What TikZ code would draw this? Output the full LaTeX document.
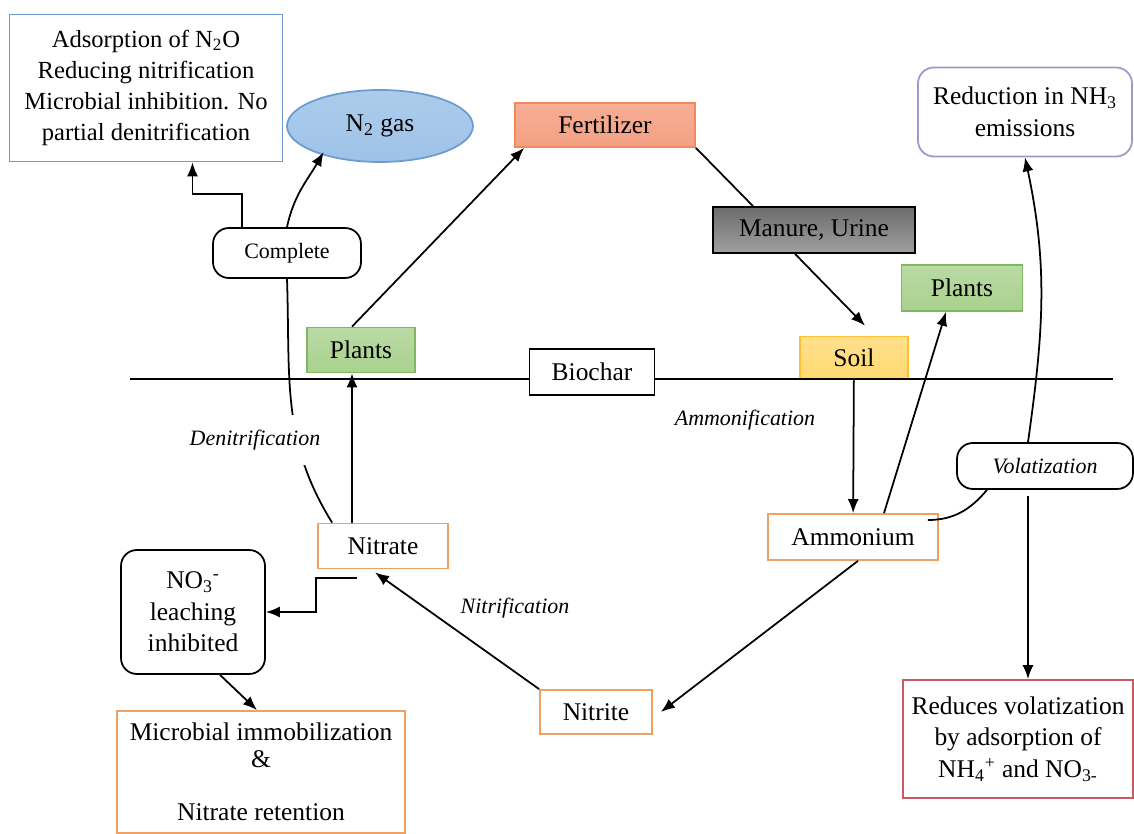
\documentclass[tikz,border=0pt]{standalone}
\usepackage{fontspec}
\setmainfont{Liberation Serif}
\usepackage{xcolor}
\usepackage{tikz}
\usetikzlibrary{arrows.meta, positioning, shapes.geometric, calc}

\definecolor{adsblue}{RGB}{112,155,210}
\definecolor{gasblue}{RGB}{158,195,232}
\definecolor{gasline}{RGB}{108,155,208}
\definecolor{fertred}{RGB}{244,160,131}
\definecolor{fertline}{RGB}{238,138,94}
\definecolor{plantgreen}{RGB}{169,209,142}
\definecolor{plantline}{RGB}{128,184,96}
\definecolor{soilyellow}{RGB}{255,216,112}
\definecolor{soilline}{RGB}{255,192,48}
\definecolor{orangeline}{RGB}{240,160,96}
\definecolor{lilacline}{RGB}{164,151,204}
\definecolor{redline}{RGB}{200,90,100}

\begin{document}
\begin{tikzpicture}[x=0.02cm, y=-0.02cm, line width=1pt,
                    >={Latex[length=2.8mm,width=2.2mm]},
                    font=\fontsize{14.5}{18}\selectfont,
                    box node/.style={draw, rectangle, align=center, inner sep=2pt},
                    round node/.style={box node, rounded corners=9pt},
                    label node/.style={font=\fontsize{12.5}{15}\selectfont\itshape}]

  \useasboundingbox (0,0) rectangle (1134,834);

  \node[box node, draw=adsblue, minimum width=5.46cm, minimum height=2.94cm,
        font=\fontsize{14}{17.8}\selectfont] (adsorp) at (146,88)
       {Adsorption of N\textsubscript{2}O\\
        Reducing nitrification\\
        Microbial inhibition. No\\
        partial denitrification};
  \node[ellipse, draw=gasline, top color=gasblue!85!white, bottom color=gasblue, minimum width=3.72cm, minimum height=1.44cm] (n2) at (380,126) {N\textsubscript{2} gas};
  \node[box node, draw=fertline, top color=fertred!85!white, bottom color=fertred, minimum width=3.6cm, minimum height=0.88cm] (fert) at (605,125) {Fertilizer};
  \node[box node, draw=black, top color=gray!85!black, bottom color=gray!75, minimum width=4.04cm, minimum height=0.92cm] (manure) at (814,230) {Manure, Urine};
  \node[round node, draw=lilacline, minimum width=4.28cm, minimum height=1.78cm] (reduc) at (1025,112) {Reduction in NH\textsubscript{3}\\emissions};
  \node[round node, minimum width=2.96cm, minimum height=1cm, font=\fontsize{12.5}{15}\selectfont] (complete) at (287,253) {Complete};

  \node[box node, draw=plantline, top color=plantgreen!80!white, bottom color=plantgreen, minimum width=2.16cm, minimum height=0.9cm] (plantsL) at (361,350) {Plants};
  \node[box node, draw=plantline, top color=plantgreen!80!white, bottom color=plantgreen, minimum width=2.42cm, minimum height=0.92cm] (plantsR) at (962,288) {Plants};
  \node[box node, draw=soilline, top color=soilyellow!80!white, bottom color=soilyellow, minimum width=2.16cm, minimum height=0.86cm] (soil) at (854,358) {Soil};

  \draw (130,379) -- (1113,379);
  \node[box node, fill=white, minimum width=2.5cm, minimum height=0.92cm] (biochar) at (592,372) {Biochar};

  \node[round node, minimum width=3.52cm, minimum height=0.92cm, label node] (volat) at (1045,466) {Volatization};
  \node[box node, draw=orangeline, minimum width=2.6cm, minimum height=0.9cm] (nitrate) at (383,546) {Nitrate};
  \node[box node, draw=orangeline, minimum width=3.4cm, minimum height=0.92cm] (ammon) at (853,537) {Ammonium};
  \node[round node, minimum width=2.88cm, minimum height=2.48cm] (no3) at (193,612) {NO\textsubscript{3}\textsuperscript{-}\\leaching\\inhibited};
  \node[box node, draw=orangeline, minimum width=2.24cm, minimum height=0.88cm] (nitrite) at (596,712) {Nitrite};
  \node[box node, draw=orangeline, minimum width=5.76cm, minimum height=2.44cm, font=\fontsize{14.5}{15.5}\selectfont] (microb) at (261,772) {Microbial immobilization\\\&\\[0.52cm]Nitrate retention};
  \node[box node, draw=redline, minimum width=4.6cm, minimum height=2.36cm] (reduces) at (1018,739) {Reduces volatization\\by adsorption of\\NH\textsubscript{4}\textsuperscript{+} and NO\textsubscript{3-}};

  \draw[->] ([xshift=-0.18cm]plantsL.north) -- ([xshift=0.2cm]fert.south west);
  \draw (fert.south east) -- ([xshift=-1.22cm]manure.north);
  \draw[->] ([xshift=-0.38cm]manure.south) -- ([xshift=0.22cm,yshift=0.2cm]soil.north);
  \draw[->] (soil) -- (ammon);
  \draw[->] ([xshift=0.62cm]ammon.north) -- ([xshift=-0.32cm]plantsR.south);
  \draw ([xshift=-0.22cm,yshift=0.34cm]ammon.east) to[out=0,in=-130] ([xshift=-1.16cm]volat.south);
  \draw[->] ([xshift=-0.34cm]volat.north) to[out=82,in=-78] (reduc.south);
  \draw[->] ([xshift=-0.34cm,yshift=-0.12cm]volat.south) -- ([xshift=-0.34cm]volat.south |- reduces.north);
  \draw[->] ([xshift=0.1cm]ammon.south) -- ([xshift=0.16cm]nitrite.east);
  \draw[->] (nitrite.north west) -- ([xshift=-0.16cm,yshift=-0.06cm]nitrate.south);
  \draw[->] ([xshift=-0.62cm]nitrate.north) -- ([xshift=-0.62cm]nitrate.north |- plantsL.south);
  \draw ([xshift=0.3cm]nitrate.north west) to[out=122,in=-88] (complete.south);
  \draw[->] (complete.north) to[out=78,in=-120] ([xshift=0.2cm]n2.south west);
  \draw[->] ([xshift=-0.9cm]complete.north) -- ++(0,-33) -| ([xshift=0.93cm]adsorp.south);
  \draw[->] ([xshift=-0.52cm,yshift=-0.18cm]nitrate.south) -- ++(-41,0) |- (no3.east);
  \draw[->] ([xshift=0.54cm]no3.south) -- ([xshift=-0.08cm]microb.north);

  \node[label node] (ammonif) at (745,420) {Ammonification};
  \node[label node, fill=white, minimum height=1cm] (denitrif) at (255,440) {Denitrification};
  \node[label node] (nitrif) at (515,608) {Nitrification};

\end{tikzpicture}
\end{document}
